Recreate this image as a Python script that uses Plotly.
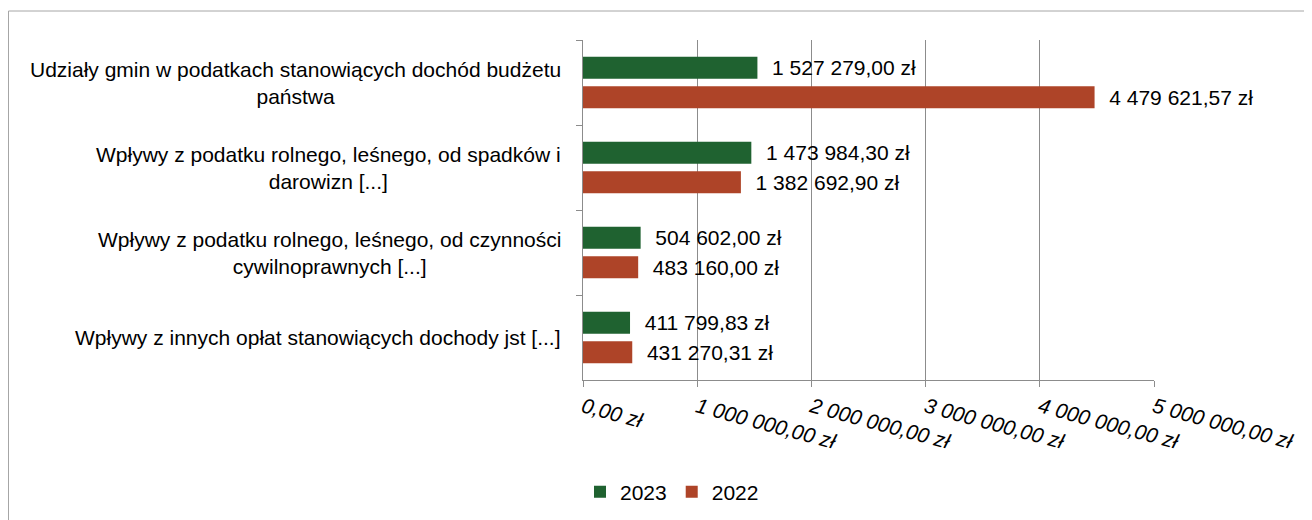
"""Horizontal bar chart: dochody gminy 2023 vs 2022."""

import plotly.graph_objects as go

categories = [
    "Udziały gmin w podatkach stanowiących dochód budżetu<br>państwa",
    "Wpływy z podatku rolnego, leśnego, od spadków i<br>darowizn [...]",
    "Wpływy z podatku rolnego, leśnego, od czynności<br>cywilnoprawnych [...]",
    "Wpływy z innych opłat stanowiących dochody jst [...]",
]
values_2023 = [1527279.00, 1473984.30, 504602.00, 411799.83]
values_2022 = [4479621.57, 1382692.90, 483160.00, 431270.31]
x_ticks = [0, 1000000, 2000000, 3000000, 4000000, 5000000]

GREEN = "#1F6230"
RED = "#AE4428"
FONT = "Liberation Sans, Arial, sans-serif"

# page has an 8px body margin, so the figure is a bit smaller than the window
OFF = 8
W, H = 1312 - OFF, 520 - OFF
# plot area in window pixels
PX0, PX1, PY0, PY1 = 583, 1154, 40, 380
L, R = PX0 - OFF, W - (PX1 - OFF)
T, B = PY0 - OFF, H - (PY1 - OFF)
plot_w = PX1 - PX0
plot_h = PY1 - PY0


def pln(value: float) -> str:
    """Format a number the Polish way: 1 527 279,00 zł."""
    return f"{value:,.2f}".replace(",", " ").replace(".", ",") + " zł"


fig = go.Figure()
for name, values, color in (("2023", values_2023, GREEN), ("2022", values_2022, RED)):
    fig.add_trace(
        go.Bar(
            y=categories,
            x=values,
            orientation="h",
            name=name,
            marker={"color": color, "line": {"width": 0}},
            text=["\u00a0\u00a0" + pln(v) for v in values],
            textposition="outside",
            textfont={"size": 21, "color": "#000000", "family": FONT},
            constraintext="none",
            cliponaxis=False,
        )
    )

# category labels as centred annotations (tick labels would be right-aligned)
for cat in categories:
    fig.add_annotation(
        text=cat,
        xref="paper",
        yref="y",
        x=-20 / plot_w,
        y=cat,
        xanchor="right",
        yanchor="middle",
        align="center",
        showarrow=False,
        font={"size": 21, "color": "#000000", "family": FONT},
    )

# thin grey frame round the whole chart (bottom edge is off-picture)
fig.add_shape(
    type="rect",
    xref="paper",
    yref="paper",
    x0=(OFF + 0.5 - PX0) / plot_w,
    x1=(1308.5 - PX0) / plot_w,
    y0=(PY1 - 540) / plot_h,
    y1=(PY1 - 11) / plot_h,
    line={"color": "#A6A6A6", "width": 1},
    fillcolor="rgba(0,0,0,0)",
    layer="below",
)

fig.update_layout(
    width=W,
    height=H,
    margin={"l": L, "r": R, "t": T, "b": B},
    paper_bgcolor="#FFFFFF",
    plot_bgcolor="#FFFFFF",
    barmode="group",
    bargap=0.31,
    bargroupgap=0.25,
    font={"family": FONT, "size": 21, "color": "#000000"},
    showlegend=True,
    legend={
        "orientation": "h",
        "xref": "container",
        "yref": "container",
        "x": (672 - OFF) / W,
        "xanchor": "center",
        "y": 1 - (492 - OFF) / H,
        "yanchor": "middle",
        "font": {"size": 21, "family": FONT},
        "itemwidth": 30,
        "bgcolor": "rgba(0,0,0,0)",
    },
    xaxis={
        "range": [0, 5000000],
        "tickvals": x_ticks,
        "ticktext": [pln(v) for v in x_ticks],
        "tickangle": 15,
        "tickfont": {"size": 21, "style": "italic", "family": FONT},
        "showgrid": True,
        "gridcolor": "#8C8C8C",
        "gridwidth": 1,
        "showline": True,
        "linecolor": "#8C8C8C",
        "ticks": "outside",
        "ticklen": 6,
        "tickcolor": "#8C8C8C",
        "zeroline": False,
        "fixedrange": True,
    },
    yaxis={
        "autorange": "reversed",
        "showticklabels": False,
        "showline": True,
        "linecolor": "#8C8C8C",
        "ticks": "outside",
        "tickson": "boundaries",
        "ticklen": 6,
        "tickcolor": "#8C8C8C",
        "showgrid": False,
        "fixedrange": True,
    },
)

fig.write_html("out.html")
